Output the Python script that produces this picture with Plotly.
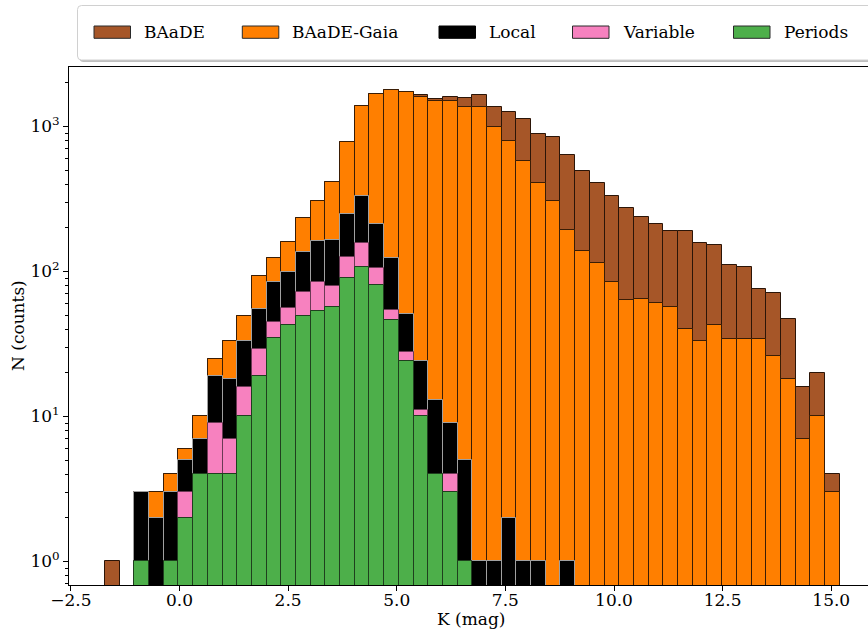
import numpy as np
import plotly.graph_objects as go

# histogram definition (50 bins in K)
k_min = -1.715
k_max = 15.194
n_bins = 50

# counts per bin
baade = [1, 0, 3, 3, 4, 6, 10, 25, 33, 49,
         93, 123, 160, 233, 307, 411, 777, 1383, 1663, 1780,
         1740, 1648, 1535, 1597, 1567, 1640, 1365, 1253, 1119, 887,
         841, 632, 490, 409, 329, 272, 239, 213, 189, 189,
         156, 151, 110, 107, 76, 71, 47, 16, 20, 4]
baade_gaia = [0, 0, 3, 3, 4, 6, 10, 25, 33, 49,
              93, 123, 160, 233, 307, 411, 777, 1383, 1663, 1780,
              1736, 1590, 1490, 1490, 1370, 1352, 995, 793, 574, 405,
              307, 193, 139, 114, 84, 64, 65, 61, 57, 40,
              33, 43, 34, 34, 34, 26, 18, 7, 10, 3]
local = [0, 0, 3, 2, 3, 5, 7, 19, 18, 33,
         55, 85, 99, 136, 161, 164, 249, 333, 213, 123,
         51, 24, 13, 9, 5, 1, 1, 2, 1, 1,
         0, 1, 0, 0, 0, 0, 0, 0, 0, 0,
         0, 0, 0, 0, 0, 0, 0, 0, 0, 0]
variable = [0, 0, 1, 0, 1, 3, 4, 9, 7, 16,
            29, 45, 56, 72, 85, 79, 125, 156, 105, 54,
            28, 11, 4, 4, 1, 0, 0, 0, 0, 0,
            0, 0, 0, 0, 0, 0, 0, 0, 0, 0,
            0, 0, 0, 0, 0, 0, 0, 0, 0, 0]
periods = [0, 0, 1, 0, 1, 2, 4, 4, 4, 10,
           19, 35, 43, 49, 53, 57, 90, 108, 81, 46,
           24, 10, 4, 3, 1, 0, 0, 0, 0, 0,
           0, 0, 0, 0, 0, 0, 0, 0, 0, 0,
           0, 0, 0, 0, 0, 0, 0, 0, 0, 0]

series_names = ["BAaDE", "BAaDE-Gaia", "Local", "Variable", "Periods"]
series_colors = ["#a65628", "#ff7f00", "#000000", "#f781bf", "#4daf4a"]
edge_colors = ["#2b1508", "#3a1d05", "#a0a0a0", "#6b3a55", "#1f3f1e"]

x_ticks = [-2.5, 0.0, 2.5, 5.0, 7.5, 10.0, 12.5, 15.0]

edges = np.linspace(k_min, k_max, n_bins + 1)
centers = 0.5 * (edges[:-1] + edges[1:])
bin_w = edges[1] - edges[0]

FONT = "DejaVu Serif"

fig = go.Figure()
for name, vals, col, ec in zip(series_names, [baade, baade_gaia, local, variable, periods],
                               series_colors, edge_colors):
    fig.add_trace(go.Bar(
        x=centers,
        y=[v if v > 0 else None for v in vals],
        width=bin_w,
        name=name,
        marker=dict(color=col, line=dict(color=ec, width=1)),
        showlegend=False,
    ))

# plot area in pixels
W, H = 868, 631
L, R, T, B = 69, 868, 67, 585

def px(x):
    return (x - L) / (R - L)

def py(y):
    return (B - y) / (B - T)

shapes = []
# legend frame with shadow
def rounded(x0, y0, x1, y1, r=4):
    rx = r / (R - L)
    ry = r / (B - T)
    a, b, c, d = px(x0), py(y0), px(x1), py(y1)
    return (f"M{a+rx},{b} L{c-rx},{b} Q{c},{b} {c},{b-ry} L{c},{d+ry} Q{c},{d} {c-rx},{d} "
            f"L{a+rx},{d} Q{a},{d} {a},{d+ry} L{a},{b-ry} Q{a},{b} {a+rx},{b} Z")

shapes.append(dict(type="path", xref="paper", yref="paper", path=rounded(79.5, 7.5, 890, 62),
                   fillcolor="rgba(0,0,0,0.25)", line=dict(width=0), layer="above"))
shapes.append(dict(type="path", xref="paper", yref="paper", path=rounded(77.5, 5.5, 888, 60),
                   fillcolor="white", line=dict(color="#d0d0d0", width=1), layer="above"))

patch_x = [94, 242.3, 439, 572.5, 733.5]
annotations = []
for x0, name, col, ec in zip(patch_x, series_names, series_colors, edge_colors):
    shapes.append(dict(type="rect", xref="paper", yref="paper",
                       x0=px(x0), x1=px(x0 + 36.5), y0=py(38.3), y1=py(26.0),
                       fillcolor=col, line=dict(color="#2a2a2a" if col != "#000000" else "#000000", width=1),
                       layer="above"))
    annotations.append(dict(xref="paper", yref="paper", x=px(x0 + 48), y=py(31.8),
                            text=name, showarrow=False, xanchor="left", yanchor="middle",
                            font=dict(family=FONT, size=17, color="black")))

# axis titles
annotations.append(dict(xref="paper", yref="paper", x=px(471), y=py(619), text="K (mag)",
                        showarrow=False, xanchor="center", yanchor="middle",
                        font=dict(family=FONT, size=17, color="black")))
annotations.append(dict(xref="paper", yref="paper", x=px(18), y=py(326), text="N (counts)",
                        showarrow=False, xanchor="center", yanchor="middle", textangle=-90,
                        font=dict(family=FONT, size=17, color="black")))

fig.update_layout(
    width=W, height=H,
    margin=dict(l=L, r=W - R, t=T, b=H - B),
    paper_bgcolor="white", plot_bgcolor="white",
    barmode="overlay", bargap=0,
    font=dict(family=FONT, size=17, color="black"),
    shapes=shapes,
    annotations=annotations,
)

fig.update_xaxes(
    range=[(L - 179.5) / 43.45, (R - 179.5) / 43.45],
    tickvals=x_ticks,
    ticktext=[f"{t:.1f}".replace("-", "\u2212") for t in x_ticks],
    ticks="outside", ticklen=5, tickwidth=1, tickcolor="black",
    ticklabelstandoff=-5,
    showline=True, linecolor="black", linewidth=1, mirror=True,
    showgrid=False, zeroline=False, automargin=False,
    tickfont=dict(family=FONT, size=17),
)

minor_vals = [m * 10 ** e for e in range(-1, 4) for m in range(2, 10)]
fig.update_yaxes(
    type="log",
    range=[-0.163, 3.410],
    tickvals=[1, 10, 100, 1000],
    ticktext=["10<sup>0</sup>", "10<sup>1</sup>", "10<sup>2</sup>", "10<sup>3</sup>"],
    ticks="outside", ticklen=5, tickwidth=1, tickcolor="black",
    minor=dict(tickvals=minor_vals, ticks="outside", ticklen=3, tickwidth=1, tickcolor="black", showgrid=False),
    showline=True, linecolor="black", linewidth=1,
    showgrid=False, zeroline=False, automargin=False,
    tickfont=dict(family=FONT, size=17),
)

fig.write_html("out.html", config={"displayModeBar": False},
               post_script="document.body.style.margin='0';")
